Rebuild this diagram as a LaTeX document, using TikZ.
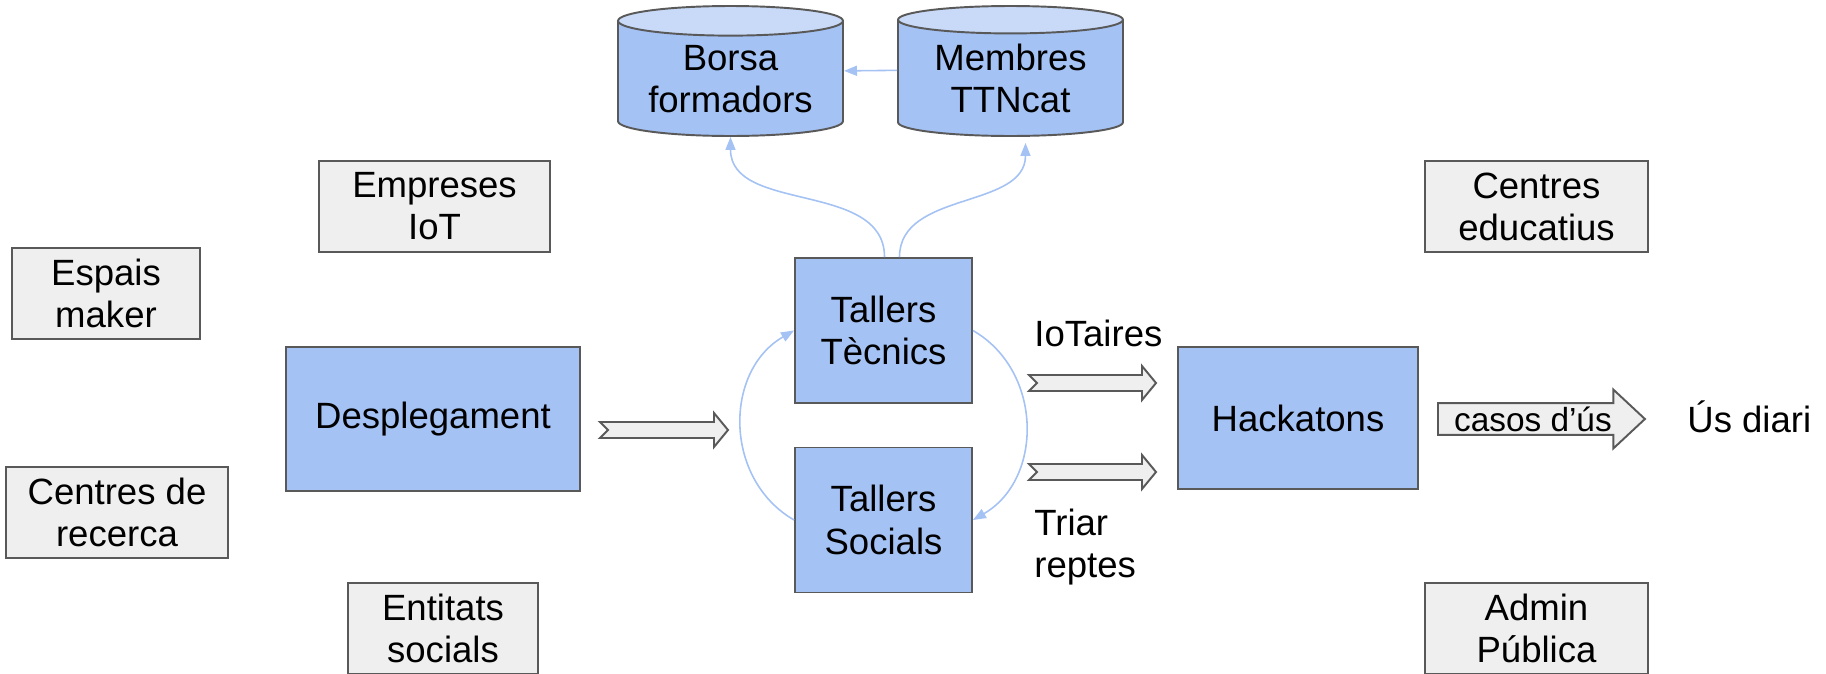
\documentclass[tikz,border=0pt]{standalone}
\usepackage{fontspec}
\setmainfont{Liberation Sans}
\usetikzlibrary{positioning, arrows.meta, calc, shapes.geometric, shapes.arrows}
\definecolor{boxblue}{HTML}{A4C2F4}
\definecolor{topblue}{HTML}{C9DAF8}
\definecolor{boxgrey}{HTML}{EFEFEF}
\definecolor{edge}{HTML}{595959}
\definecolor{flowblue}{HTML}{A4C2F4}

% fat grey arrow with a notched tail, between two named points
\newcommand{\chevarrow}[2]{%
  \draw[fatarrow] let \p1=(#1), \p2=(#2) in
    (\x1,\y1+0.16cm) -- (\x2-0.28cm,\y1+0.16cm) -- (\x2-0.28cm,\y1+0.34cm) -- (\x2,\y1)
    -- (\x2-0.28cm,\y1-0.34cm) -- (\x2-0.28cm,\y1-0.16cm) -- (\x1,\y1-0.16cm)
    -- (\x1+0.16cm,\y1) -- cycle;}

\begin{document}
\begin{tikzpicture}[x=0.02cm, y=0.02cm,
  every node/.style={font=\fontsize{20.8}{24}\selectfont, align=center, inner sep=0pt},
  actor/.style={draw=edge, fill=boxgrey, line width=1.1pt, minimum height=1.82cm},
  stage/.style={draw=edge, fill=boxblue, line width=1.1pt},
  store/.style={shape=cylinder, shape border rotate=90, aspect=0.18, draw=edge, line width=1.1pt,
    cylinder uses custom fill, cylinder body fill=boxblue, cylinder end fill=topblue,
    minimum width=4.5cm, minimum height=2.6cm, anchor=shape center},
  flow/.style={draw=flowblue, line width=0.9pt, -{Triangle[length=0.26cm, width=0.2cm]}},
  fatarrow/.style={draw=edge, fill=boxgrey, line width=1.1pt},
  labelarrow/.style={single arrow, draw=edge, fill=boxgrey, line width=1.1pt,
    minimum height=4.14cm, minimum width=1.16cm, inner sep=0.05cm,
    single arrow head extend=0.27cm, single arrow tip angle=86,
    font=\fontsize{19}{22}\selectfont}
]
\useasboundingbox (0,0) rectangle (1826,-673);

% data stores
\node[store] (borsa) at (730.5,-71) {Borsa\\formadors};
\node[store] (membres) at (1010.5,-71) {Membres\\TTNcat};

% partners round the flow
\node[actor, minimum width=4.62cm] (empreses) at (434.5,-206.5) {Empreses\\IoT};
\node[actor, minimum width=3.76cm] (espais) at (106,-293.5) {Espais\\maker};
\node[actor, minimum width=4.44cm] (recerca) at (117,-512.5) {Centres de\\recerca};
\node[actor, minimum width=3.8cm] (entitats) at (443,-628.5) {Entitats\\socials};
\node[actor, minimum width=4.46cm] (educatius) at (1536.5,-206.5) {Centres\\educatius};
\node[actor, minimum width=4.46cm] (admin) at (1536.5,-628.5) {Admin\\Pública};

% main flow
\node[stage, minimum width=5.88cm, minimum height=2.88cm] (desplegament) at (433,-419) {Desplegament};
\node[stage, minimum width=3.54cm, minimum height=2.9cm] (tecnics) at (883.5,-330.5) {Tallers\\Tècnics};
\node[stage, minimum width=3.54cm, minimum height=2.9cm] (socials) at (883.5,-520) {Tallers\\Socials};
\node[stage, minimum width=4.8cm, minimum height=2.84cm] (hackatons) at (1298,-418) {Hackatons};

\node[anchor=base west] (iotaires) at (1034,-346) {IoTaires};
\node[anchor=west, align=left] (triar) at (1034,-547) {Triar\\reptes};
\node[labelarrow, anchor=tail] (casos) at (1437,-419) {casos d’ús};
\node[anchor=base west] (usdiari) at (1687,-432) {Ús diari};

% fat arrows
\coordinate (d-tail) at (600,-430);
\coordinate (d-tip) at (728,-430);
\coordinate (i-tail) at (1029,-383);
\coordinate (i-tip) at (1156,-383);
\coordinate (r-tail) at (1029,-472);
\coordinate (r-tip) at (1156,-472);
\chevarrow{d-tail}{d-tip}
\chevarrow{i-tail}{i-tip}
\chevarrow{r-tail}{r-tip}

% thin links
\draw[flow] ([yshift=0.16cm]membres.180) -- ([yshift=0.16cm]borsa.0);
\draw[flow] ([xshift=0.02cm]tecnics.north) to[out=90, in=-90] (borsa.270);
\draw[flow] ([xshift=0.32cm]tecnics.north) to[out=90, in=-90] ([xshift=0.3cm, yshift=-0.12cm]membres.270);
\draw[flow] (socials.west) to[out=150, in=210, looseness=1.1] (tecnics.west);
\draw[flow] (tecnics.east) to[out=-30, in=30, looseness=1.1] (socials.east);
\end{tikzpicture}
\end{document}
